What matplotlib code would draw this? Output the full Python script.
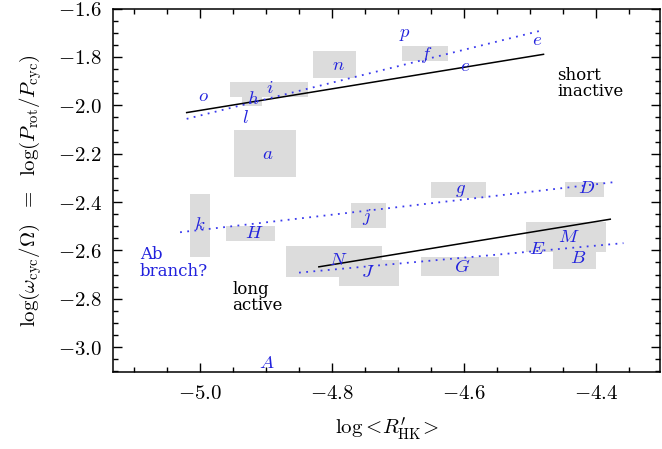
import numpy as np
import matplotlib
matplotlib.use('Agg')
import matplotlib.pyplot as plt
from matplotlib.ticker import MultipleLocator

plt.rcParams['mathtext.fontset'] = 'cm'
plt.rcParams['axes.formatter.use_mathtext'] = True
plt.rcParams['font.family'] = 'DejaVu Serif'

# star labels and their positions (activity, cycle/rotation ratio)
star_names = ['o', 'h', 'i', 'l', 'n', 'a', 'p', 'f', 'e', 'e', 'g', 'D',
              'k', 'H', 'j', 'N', 'J', 'G', 'M', 'E', 'B', 'A']
star_logrhk = [-4.995, -4.919, -4.895, -4.931, -4.791, -4.897, -4.689, -4.657,
               -4.490, -4.598, -4.605, -4.415, -5.000, -4.917, -4.748, -4.791,
               -4.746, -4.603, -4.441, -4.489, -4.427, -4.899]
star_logratio = [-1.960, -1.974, -1.930, -2.054, -1.833, -2.201, -1.706, -1.792,
                 -1.730, -1.837, -2.350, -2.343, -2.495, -2.526, -2.460, -2.639,
                 -2.688, -2.667, -2.543, -2.594, -2.632, -3.064]

# uncertainty boxes: (x0, x1, y0, y1)
box_x0 = [-4.829, -4.955, -4.937, -4.949, -4.694, -4.650, -4.448, -5.015,
          -4.960, -4.772, -4.870, -4.790, -4.666, -4.507, -4.465]
box_x1 = [-4.764, -4.837, -4.906, -4.854, -4.624, -4.567, -4.388, -4.985,
          -4.886, -4.719, -4.724, -4.699, -4.548, -4.386, -4.400]
box_y0 = [-1.886, -1.964, -2.003, -2.295, -1.815, -2.383, -2.378, -2.626,
          -2.560, -2.506, -2.712, -2.746, -2.704, -2.605, -2.675]
box_y1 = [-1.775, -1.903, -1.928, -2.102, -1.755, -2.317, -2.317, -2.366,
          -2.499, -2.404, -2.581, -2.639, -2.626, -2.483, -2.605]

# branch fits
inactive_fit_x = [-5.020, -4.480]
inactive_fit_y = [-2.030, -1.789]
inactive_fit2_x = [-5.020, -4.481]
inactive_fit2_y = [-2.056, -1.689]
active_fit2_x = [-5.030, -4.371]
active_fit2_y = [-2.525, -2.317]
active_fit_x = [-4.820, -4.379]
active_fit_y = [-2.668, -2.471]
super_fit2_x = [-4.850, -4.359]
super_fit2_y = [-2.692, -2.570]

blue = '#2222DD'
dot_blue = '#3A3AEE'

fig = plt.figure(figsize=(6.62, 4.49), dpi=100)
ax = fig.add_axes([0.1712, 0.1704, 0.8265, 0.8104])

ax.bar(box_x0, np.subtract(box_y1, box_y0), width=np.subtract(box_x1, box_x0),
       bottom=box_y0, align='edge', color='#DCDCDC', linewidth=0, zorder=1)

ax.plot(inactive_fit_x, inactive_fit_y, color='black', lw=1.1, zorder=2)
ax.plot(active_fit_x, active_fit_y, color='black', lw=1.1, zorder=2)
dots = (0, (1, 3))
ax.plot(inactive_fit2_x, inactive_fit2_y, color=dot_blue, lw=1.3, ls=dots, zorder=2)
ax.plot(active_fit2_x, active_fit2_y, color=dot_blue, lw=1.3, ls=dots, zorder=2)
ax.plot(super_fit2_x, super_fit2_y, color=dot_blue, lw=1.3, ls=dots, zorder=2)

for name, x, y in zip(star_names, star_logrhk, star_logratio):
    ax.text(x, y, '$' + name + '$', color=blue, fontsize=13.5,
            ha='center', va='center', zorder=3)

ax.text(-4.4593, -1.91, 'short\ninactive', fontsize=12, ha='left', va='center',
        linespacing=0.95)
ax.text(-5.0907, -2.652, 'Ab\nbranch?', fontsize=12, ha='left', va='center',
        color=blue, linespacing=0.95)
ax.text(-4.9506, -2.794, 'long\nactive', fontsize=12, ha='left', va='center',
        linespacing=0.95)

ax.set_xlim(-5.131, -4.303)
ax.set_ylim(-3.105, -1.6)
ax.xaxis.set_major_locator(MultipleLocator(0.2))
ax.xaxis.set_minor_locator(MultipleLocator(0.05))
ax.yaxis.set_major_locator(MultipleLocator(0.2))
ax.yaxis.set_minor_locator(MultipleLocator(0.05))
ax.xaxis.set_major_formatter(lambda v, pos: r'$%.1f$' % v)
ax.yaxis.set_major_formatter(lambda v, pos: r'$%.1f$' % v)

ax.tick_params(which='both', direction='in', top=True, right=True, width=1.0)
ax.tick_params(which='major', length=6.5, labelsize=15, pad=8)
ax.tick_params(which='minor', length=3.5)
for s in ax.spines.values():
    s.set_linewidth(1.1)

ax.set_xlabel(r"$\log\!<\!R^{\prime}_{\rm HK}\!>$", fontsize=15, labelpad=9)
ax.set_ylabel(r'$\log(\omega_{\rm cyc}/\Omega)\ \ =\ \ \log(P_{\rm rot}/P_{\rm cyc})$',
              fontsize=15, labelpad=10)

fig.savefig('out.png', dpi=100)
